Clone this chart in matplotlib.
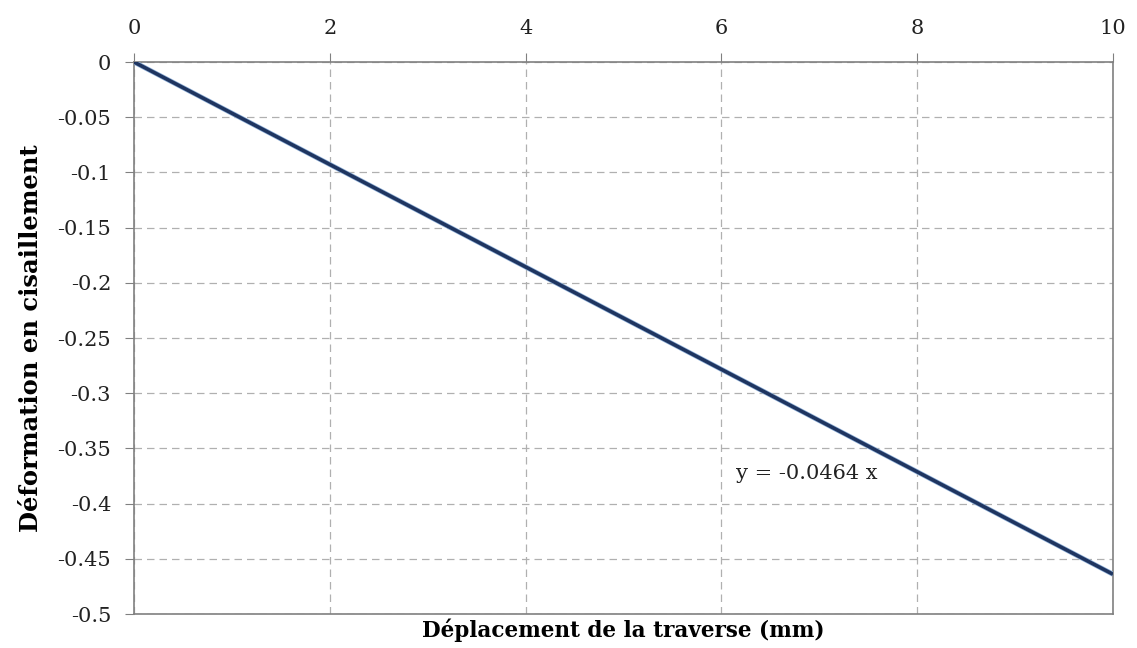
import matplotlib
matplotlib.use("Agg")
import matplotlib.pyplot as plt
import numpy as np

x_vals = [0, 10]
slope = -0.0464
y_vals = [slope * v for v in x_vals]
x_ticks = [0, 2, 4, 6, 8, 10]
y_ticks = [0, -0.05, -0.1, -0.15, -0.2, -0.25, -0.3, -0.35, -0.4, -0.45, -0.5]
y_tick_labels = ["0", "-0.05", "-0.1", "-0.15", "-0.2", "-0.25", "-0.3", "-0.35", "-0.4", "-0.45", "-0.5"]
eq_label = "y = -0.0464 x"

plt.rcParams['font.family'] = ['DejaVu Serif']

fig = plt.figure(figsize=(11.37, 6.48), dpi=100)
ax = fig.add_axes([134/1137, 1-614/648, (1113-134)/1137, (614-62)/648])

ax.plot(x_vals, y_vals, color='#8fb0d8', linewidth=3.6, solid_capstyle='butt', zorder=3)
ax.plot(x_vals, y_vals, color='#1f3560', linewidth=2.6, solid_capstyle='butt', zorder=4)

ax.set_xlim(0, 10)
ax.set_ylim(-0.5, 0)
ax.xaxis.tick_top()
ax.set_xticks(x_ticks)
ax.set_xticklabels([str(t) for t in x_ticks])
ax.set_yticks(y_ticks)
ax.set_yticklabels(y_tick_labels)
ax.tick_params(axis='both', direction='out', length=6.5, color='#808080', labelsize=15, colors='#222222')
ax.tick_params(axis='x', pad=11)
ax.tick_params(axis='y', pad=10)
ax.grid(True, color='#b0b0b0', linestyle=(0, (6, 4)), linewidth=0.9)
for s in ax.spines.values():
    s.set_color('#808080')
    s.set_linewidth(1.2)

ax.set_ylabel("Déformation en cisaillement", fontsize=17.5, fontweight='bold', labelpad=10)
ax.set_xlabel("Déplacement de la traverse (mm)", fontsize=15.5, fontweight='bold', labelpad=3)
ax.xaxis.set_label_position('bottom')

ax.text(6.15, -0.373, eq_label, fontsize=15, color='#222222', va='center', ha='left')

fig.savefig("out.png", dpi=100)
